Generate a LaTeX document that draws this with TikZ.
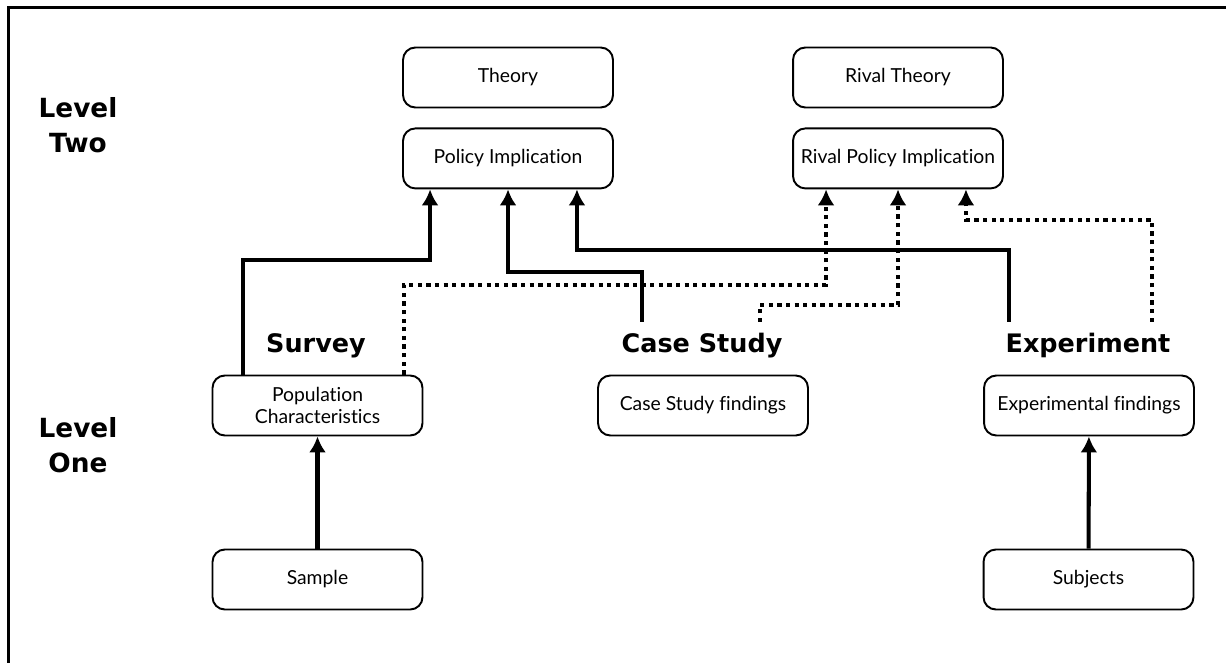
\documentclass[tikz,border=0pt]{standalone}
\usepackage{fontspec}
\setmainfont{Lato}[Ligatures={NoCommon}]
\newfontfamily\headfont{DejaVu Sans}
\usepackage{tikz}
\usetikzlibrary{arrows.meta, positioning}

\begin{document}
\begin{tikzpicture}[
    x=0.02cm, y=-0.02cm,
    node distance=0.38cm,
    box/.style={draw, line width=1.1pt, rounded corners=7pt, align=center, minimum width=4.2cm, minimum height=1.2cm, inner sep=2pt, font=\fontsize{11}{13}\selectfont},
    method/.style={anchor=base, inner ysep=6pt, font=\headfont\bfseries\fontsize{14.5}{17}\selectfont},
    level/.style={align=center, font=\headfont\bfseries\fontsize{15}{20}\selectfont},
    arrow/.style={-{Latex[length=3.2mm, width=3.4mm]}, line width=2.3pt},
    rival/.style={arrow, dash pattern=on 2.4pt off 2.5pt},
]
    \useasboundingbox (0,0) rectangle (1226,662);
    \draw[line width=1.7pt] (8.5,700) -- (8.5,7.5) -- (1240,7.5);

    \node[level] (leveltwo) at (78,125) {Level\\Two};
    \node[level] (levelone) at (78,445) {Level\\One};

    \node[box] (theory) at (508,77.5) {Theory};
    \node[box, below=0.38cm of theory] (policy) {Policy Implication};
    \node[box] (rivaltheory) at (898,77.5) {Rival Theory};
    \node[box, below=0.38cm of rivaltheory] (rivalpolicy) {Rival Policy Implication};

    \node[box] (popchar) at (317.5,405.5) {Population\\Characteristics};
    \node[box] (casefind) at (703,405.5) {Case Study findings};
    \node[box] (expfind) at (1089,405.5) {Experimental findings};
    \node[box] (sample) at (317.5,579.5) {Sample};
    \node[box] (subjects) at (1088.5,579.5) {Subjects};

    \node[method] (survey) at (316,352) {Survey};
    \node[method] (casestudy) at (702,352) {Case Study};
    \node[method] (experiment) at (1088,352) {Experiment};

    \draw[arrow] ([xshift=0.62cm]popchar.north west) -- ++(0,-115) -| ([xshift=0.56cm]policy.south west);
    \draw[arrow] ([xshift=-1.2cm]casestudy.north) -- ++(0,-50) -| (policy.south);
    \draw[arrow] ([xshift=-1.58cm]experiment.north) -- ++(0,-72) -| ([xshift=-0.74cm]policy.south east);
    \draw[rival] ([xshift=-0.38cm]popchar.north east) -- ++(0,-90) -| ([xshift=0.68cm]rivalpolicy.south west);
    \draw[rival] ([xshift=1.16cm]casestudy.north) -- ++(0,-17) -| (rivalpolicy.south);
    \draw[rival] ([xshift=1.28cm]experiment.north) -- ++(0,-102) -| ([xshift=-0.76cm]rivalpolicy.south east);
    \draw[arrow] (sample) -- (popchar);
    \draw[arrow] (subjects) -- (expfind);
\end{tikzpicture}
\end{document}
